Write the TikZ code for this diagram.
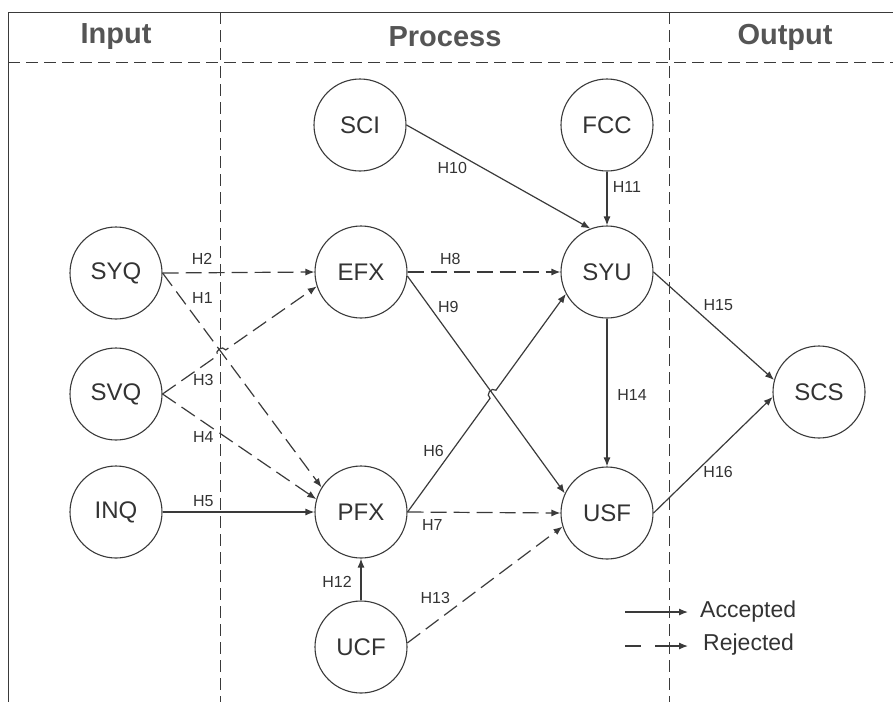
\documentclass[tikz,border=0pt]{standalone}
\usepackage{fontspec}
\setmainfont{Liberation Sans}
\usepackage{tikz}
\usetikzlibrary{arrows.meta,calc,intersections}

\definecolor{linegray}{HTML}{3A3A3A}
\definecolor{textgray}{HTML}{333333}
\definecolor{headgray}{HTML}{555555}

\begin{document}
\begin{tikzpicture}[x=1pt,y=-1pt,
		var/.style={circle,draw=linegray,line width=1.1pt,minimum size=92pt,inner sep=0pt,
			font=\fontsize{24}{24}\selectfont,text=textgray},
		hyp/.style={font=\fontsize{16}{16}\selectfont,text=textgray,inner sep=0pt},
		head/.style={font=\fontsize{29}{29}\selectfont\bfseries,text=headgray},
		legtxt/.style={font=\fontsize{23}{23}\selectfont,text=textgray,inner sep=0pt},
		frame/.style={draw=linegray,line width=1pt},
		accline/.style={draw=linegray,line width=1.2pt},
		rejline/.style={accline,dash pattern=on 16pt off 7pt},
		>={Latex[length=9pt,width=7pt]}]
		\useasboundingbox (0,0) rectangle (893,702);
		% frame
		\draw[frame] (893,12) -- (8,12) -- (8,702);
		\draw[frame,dash pattern=on 12pt off 6pt] (8,62) -- (893,62);
		\draw[frame,dash pattern=on 12pt off 6pt] (220,12) -- (220,702);
		\draw[frame,dash pattern=on 12pt off 6pt] (669,12) -- (669,702);
		\node[head] (hIn) at (116,37) {Input};
		\node[head] (hPro) at (445,37) {Process};
		\node[head] (hOut) at (785,37) {Output};
		%
		\node[var] (SYQ) at (116,273) {SYQ};
		\node[var] (SVQ) at (116,394) {SVQ};
		\node[var] (INQ) at (116,512) {INQ};
		\node[var] (SCI) at (360,125) {SCI};
		\node[var] (EFX) at (361,272) {EFX};
		\node[var] (PFX) at (361,512) {PFX};
		\node[var] (UCF) at (361,647) {UCF};
		\node[var] (FCC) at (607,125) {FCC};
		\node[var] (SYU) at (607,272) {SYU};
		\node[var] (USF) at (607,513) {USF};
		\node[var] (SCS) at (819,392) {SCS};
		%
		\path[->]
		% rejected
		(SYQ.east) edge[rejline] node[hyp,pos=.1,xshift=24pt,yshift=-3.5pt]{H1} (PFX.148)
		(SYQ.east) edge[rejline] node[hyp,pos=.26,yshift=14pt]{H2} (EFX.west)
		(SVQ.east) edge[rejline] node[hyp,pos=.265,yshift=-15pt]{H4} (PFX.164)
		(PFX.east) edge[rejline] node[hyp,pos=.162,yshift=-13pt]{H7} (USF.west)
		(EFX.east) edge[rejline] node[hyp,pos=.28,yshift=13pt]{H8} (SYU.west)
		(UCF.5) edge[rejline] node[hyp,pos=.18,yshift=24pt]{H13} (USF.197)
		% accepted
		(INQ.east) edge[accline] node[hyp,pos=.268,yshift=11pt]{H5} (PFX.west)
		(EFX.-5) edge[accline] node[hyp,pos=.142,xshift=18.6pt]{H9} (USF.155)
		(SCI.east) edge[accline] node[hyp,pos=.249,yshift=-17pt]{H10} (SYU.111)
		(FCC.south) edge[accline] node[hyp,pos=.29,xshift=20pt]{H11} (SYU.north)
		(UCF.north) edge[accline] node[hyp,pos=.44,xshift=-24pt]{H12} (PFX.south)
		(SYU.south) edge[accline] node[hyp,pos=.517,xshift=25pt]{H14} (USF.north)
		(SYU.east) edge[accline] node[hyp,pos=.305,xshift=28pt]{H15} (SCS.165)
		(USF.east) edge[accline] node[hyp,pos=.353,xshift=22.5pt]{H16} (SCS.186);
		%
		% line jumps
		\path[name path=pH1] (SYQ.east) -- (PFX.148);
		\path[name path=pH3] (SVQ.east) -- (EFX.198);
		\path[name intersections={of=pH1 and pH3,by=J1}];
		\coordinate (J1a) at ($(J1)!5pt!(SVQ.east)$);
		\coordinate (J1b) at ($(J1)!5pt!(EFX.198)$);
		\draw[rejline,->] (SVQ.east) -- node[hyp,pos=.74,yshift=-14.5pt]{H3} (J1a)
		.. controls ($(J1a)!6pt!90:(J1b)$) and ($(J1b)!6pt!-90:(J1a)$) .. (J1b) -- (EFX.198);
		\path[name path=pH6] (PFX.east) -- (SYU.208);
		\path[name path=pH9] (EFX.-5) -- (USF.155);
		\path[name intersections={of=pH6 and pH9,by=J2}];
		\coordinate (J2a) at ($(J2)!5pt!(PFX.east)$);
		\coordinate (J2b) at ($(J2)!5pt!(SYU.208)$);
		\draw[accline,->] (PFX.east) -- node[hyp,pos=.534,xshift=-18pt]{H6} (J2a)
		.. controls ($(J2a)!6pt!90:(J2b)$) and ($(J2b)!6pt!-90:(J2a)$) .. (J2b) -- (SYU.208);
		%
		% legend
		\coordinate (accL) at (625,612);
		\coordinate (accR) at (688,612);
		\coordinate (rejL) at (625,646);
		\coordinate (rejR) at (688,646);
		\node[legtxt,anchor=west] (accT) at (700,612) {Accepted};
		\node[legtxt,anchor=west] (rejT) at (703,645) {Rejected};
		\draw[accline,->] (accL) -- (accR);
		\draw[accline,->,dash pattern=on 16pt off 14pt on 40pt off 0pt] (rejL) -- (rejR);
	\end{tikzpicture}
\end{document}
